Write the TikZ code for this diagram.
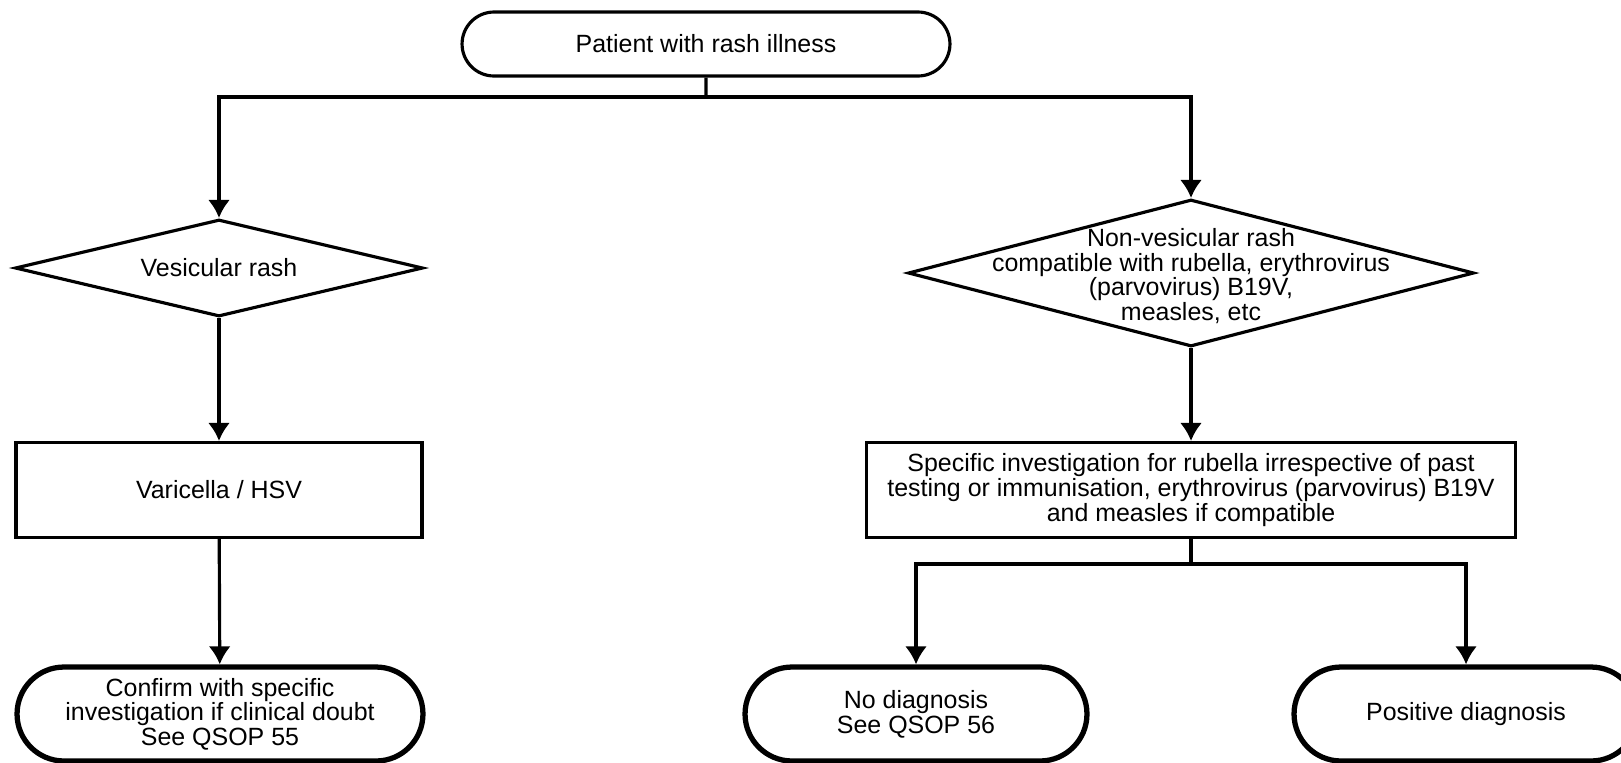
\documentclass[tikz,border=0pt]{standalone}
\usepackage{fontspec}
\setmainfont{Liberation Sans}
\usetikzlibrary{shapes.geometric, shapes.misc, arrows.meta}
\tikzset{>={Latex[length=0.36cm,width=0.44cm]}}

\begin{document}
\begin{tikzpicture}[x=0.02cm, y=-0.02cm, line width=1.8pt,
  every node/.style={font=\fontsize{14.2}{14}\selectfont, align=center},
  term/.style={draw, rounded rectangle, inner sep=0pt},
  endterm/.style={term, line width=3pt},
  dec/.style={draw, diamond, inner sep=0pt, aspect=4},
  box/.style={draw, rectangle, inner sep=0pt}]
\useasboundingbox (0,0) rectangle (1621,762);
% top of the chart
\node[term, minimum width=9.76cm, minimum height=1.28cm] (start) at (706,44) {Patient with rash illness};
\coordinate (fork1) at (706,97);
% left branch
\node[dec, minimum width=8.16cm, minimum height=1.94cm] (vesic) at (219,268) {Vesicular rash};
\node[box, minimum width=8.12cm, minimum height=1.9cm] (varic) at (219,490) {Varicella / HSV};
\node[endterm, minimum width=8.12cm, minimum height=1.88cm] (confirm) at (220,714) {Confirm with specific\\investigation if clinical doubt\\See QSOP 55};
% right branch
\node[dec, minimum width=11.32cm, minimum height=2.94cm] (nonves) at (1191,273) {};
\node (nonvestxt) at (1191,276) {Non-vesicular rash\\compatible with rubella, erythrovirus\\(parvovirus) B19V,\\measles, etc};
\node[box, minimum width=12.98cm, minimum height=1.9cm] (specinv) at (1191,490) {Specific investigation for rubella irrespective of past\\testing or immunisation, erythrovirus (parvovirus) B19V\\and measles if compatible};
\coordinate (fork2) at (1191,564);
\node[endterm, minimum width=6.84cm, minimum height=1.88cm] (nodiag) at (916,714) {No diagnosis\\See QSOP 56};
\node[endterm, minimum width=6.88cm, minimum height=1.88cm] (posdiag) at (1466,714) {Positive diagnosis};
% connectors
\draw (start) -- (fork1);
\draw[->] (fork1) -| (vesic);
\draw[->] (fork1) -| (nonves);
\draw[->] (vesic) -- (varic);
\draw[->] (varic) -- (confirm);
\draw[->] (nonves) -- (specinv);
\draw (specinv) -- (fork2);
\draw[->] (fork2) -| (nodiag);
\draw[->] (fork2) -| (posdiag);
\end{tikzpicture}
\end{document}
